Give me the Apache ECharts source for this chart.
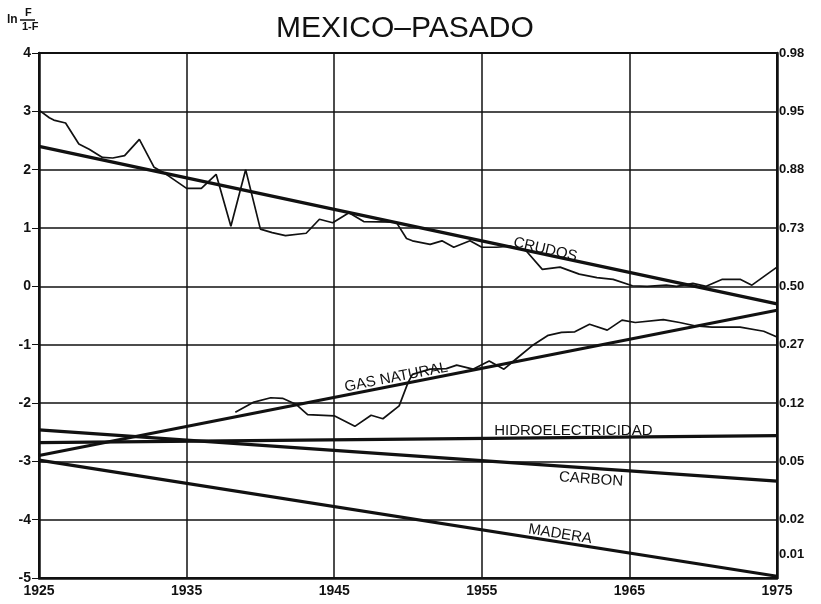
<!DOCTYPE html>
<html>
<head>
<meta charset="utf-8">
<script src="https://cdn.jsdelivr.net/npm/echarts@6/dist/echarts.min.js"></script>
<style>
  html, body { margin: 0; padding: 0; background: #fff; }
  #chart { width: 821px; height: 604px; }
</style>
</head>
<body>
<div id="chart"></div>
<script>
// Observed fraction of the market, as ln(F/(1-F)), Mexico 1925-1975
const crudosYears = [1925.0, 1925.7, 1926.0, 1926.8, 1927.7, 1928.4, 1929.3, 1930.0, 1930.8, 1931.8,
  1932.8, 1933.5, 1935.0, 1936.0, 1937.0, 1938.0, 1939.0, 1940.0, 1940.8, 1941.7,
  1943.1, 1944.0, 1944.9, 1946.0, 1947.0, 1949.2, 1949.9, 1950.3, 1951.5, 1952.3,
  1953.1, 1954.2, 1955.0, 1956.0, 1956.9, 1958.0, 1959.1, 1960.3, 1961.6, 1962.8,
  1963.9, 1965.2, 1966.2, 1967.5, 1968.2, 1969.3, 1970.2, 1971.3, 1972.5, 1973.3,
  1974.5, 1975.0];
const crudosValues = [3.02, 2.89, 2.85, 2.80, 2.44, 2.35, 2.21, 2.20, 2.24, 2.52,
  2.04, 1.94, 1.68, 1.68, 1.92, 1.03, 2.00, 0.98, 0.92, 0.87,
  0.91, 1.15, 1.09, 1.26, 1.11, 1.10, 0.82, 0.78, 0.72, 0.78,
  0.67, 0.78, 0.67, 0.67, 0.69, 0.61, 0.29, 0.33, 0.21, 0.15,
  0.12, 0.01, 0.00, 0.02, 0.00, 0.05, 0.00, 0.12, 0.12, 0.02,
  0.24, 0.33];

const gasYears = [1938.3, 1939.5, 1940.7, 1941.5, 1942.4, 1943.2, 1945.0, 1946.4, 1947.5, 1948.3,
  1949.4, 1950.0, 1950.3, 1951.5, 1952.6, 1953.3, 1954.4, 1955.5, 1956.5, 1957.3,
  1958.4, 1959.5, 1960.4, 1961.3, 1962.3, 1963.5, 1964.5, 1965.4, 1967.3, 1968.4,
  1969.5, 1970.6, 1972.5, 1974.1, 1975.0];
const gasValues = [-2.16, -1.99, -1.91, -1.92, -2.02, -2.20, -2.22, -2.40, -2.21, -2.27,
  -2.05, -1.65, -1.51, -1.42, -1.41, -1.35, -1.42, -1.28, -1.42, -1.25,
  -1.02, -0.84, -0.79, -0.78, -0.65, -0.75, -0.58, -0.62, -0.57, -0.62,
  -0.68, -0.70, -0.70, -0.77, -0.87];

// Fitted substitution lines (start and end of the period)
const trendYears = [1925, 1975];
const crudosTrend = [2.40, -0.30];
const gasTrend = [-2.90, -0.41];
const hidroTrend = [-2.68, -2.56];
const carbonTrend = [-2.46, -3.34];
const maderaTrend = [-2.98, -4.97];

// Right-hand scale: F corresponding to ln(F/(1-F))
const rightTickPositions = [4, 3, 2, 1, 0, -1, -2, -3, -4, -4.6];
const rightTickLabels = ['0.98', '0.95', '0.88', '0.73', '0.50', '0.27', '0.12', '0.05', '0.02', '0.01'];

// Curve names written along the lines: text, year, value, angle in degrees
const curveNames = ['CRUDOS', 'GAS NATURAL', 'HIDROELECTRICIDAD', 'CARBON', 'MADERA'];
const curveNameYears = [1959.3, 1949.2, 1961.2, 1962.4, 1960.3];
const curveNameValues = [0.63, -1.56, -2.47, -3.31, -4.25];
const curveNameAngles = [-13, 11, 0, -4, -9];

const FONT = '"Liberation Sans", Arial, Helvetica, sans-serif';
const INK = '#111';

function pairs(xs, ys) { return xs.map((x, i) => [x, ys[i]]); }

const chart = echarts.init(document.getElementById('chart'), null, { renderer: 'canvas' });

function trendSeries(name, values) {
  return {
    name: name, type: 'line', data: pairs(trendYears, values),
    symbol: 'none', silent: true, z: 3,
    lineStyle: { color: INK, width: 3.2 }
  };
}
function actualSeries(name, xs, ys) {
  return {
    name: name, type: 'line', data: pairs(xs, ys),
    symbol: 'none', silent: true, z: 4,
    lineStyle: { color: INK, width: 1.7 }
  };
}

const rightLabelMap = {};
rightTickPositions.forEach((p, i) => { rightLabelMap[Math.round(p * 10)] = rightTickLabels[i]; });

chart.setOption({
  backgroundColor: '#fff',
  animation: false,
  title: {
    text: 'MEXICO–PASADO',
    left: 271, top: 9,
    textStyle: { fontFamily: FONT, fontSize: 30, fontWeight: 'normal', color: INK }
  },
  grid: { left: 39, right: 44, top: 53, bottom: 26, show: true, borderColor: INK, borderWidth: 2, backgroundColor: 'transparent' },
  xAxis: {
    type: 'value', min: 1925, max: 1975, interval: 10,
    axisLine: { show: true, onZero: false, lineStyle: { color: INK, width: 2.5 } },
    axisTick: { show: false },
    axisLabel: {
      color: INK, fontFamily: FONT, fontWeight: 'bold', fontSize: 14, margin: 6,
      showMinLabel: true, showMaxLabel: true,
      formatter: v => String(Math.round(v))
    },
    splitLine: { show: true, lineStyle: { color: INK, width: 1.5 } }
  },
  yAxis: [
    {
      type: 'value', min: -5, max: 4, interval: 1, position: 'left',
      axisLine: { show: true, onZero: false, lineStyle: { color: INK, width: 2.5 } },
      axisTick: { show: true, length: 7, lineStyle: { color: INK, width: 1 } },
      axisLabel: { color: INK, fontFamily: FONT, fontWeight: 'bold', fontSize: 14, margin: 8, showMinLabel: true, showMaxLabel: true },
      splitLine: { show: true, lineStyle: { color: INK, width: 1.5 } }
    },
    {
      type: 'value', min: -5, max: 4, interval: 0.1, position: 'right',
      axisLine: { show: true, onZero: false, lineStyle: { color: INK, width: 2.5 } },
      axisTick: { show: false },
      splitLine: { show: false },
      axisLabel: {
        color: INK, fontFamily: FONT, fontWeight: 'bold', fontSize: 13, margin: 2,
        showMinLabel: true, showMaxLabel: true,
        formatter: v => rightLabelMap[Math.round(v * 10)] || ''
      }
    }
  ],
  series: [
    trendSeries('Crudos ajuste', crudosTrend),
    trendSeries('Gas natural ajuste', gasTrend),
    trendSeries('Hidroelectricidad', hidroTrend),
    trendSeries('Carbon', carbonTrend),
    trendSeries('Madera', maderaTrend),
    actualSeries('Crudos', crudosYears, crudosValues),
    actualSeries('Gas natural', gasYears, gasValues)
  ]
});

// Axis name ln F/(1-F) and the curve names placed in data coordinates
const graphics = [
  { type: 'text', left: 7, top: 14, style: { text: 'ln', font: 'bold 12px ' + FONT, fill: INK } },
  { type: 'text', left: 25, top: 7, style: { text: 'F', font: 'bold 11px ' + FONT, fill: INK } },
  { type: 'line', shape: { x1: 20, y1: 20, x2: 35, y2: 20 }, style: { stroke: INK, lineWidth: 1.5 } },
  { type: 'text', left: 22, top: 21, style: { text: '1-F', font: 'bold 11px ' + FONT, fill: INK } }
];
curveNames.forEach((name, i) => {
  const p = chart.convertToPixel({ gridIndex: 0 }, [curveNameYears[i], curveNameValues[i]]);
  graphics.push({
    type: 'text', x: p[0], y: p[1], rotation: curveNameAngles[i] * Math.PI / 180, z: 10,
    style: { text: name, font: '15px ' + FONT, fill: INK, align: 'center', verticalAlign: 'middle' }
  });
});
chart.setOption({ graphic: graphics });
</script>
</body>
</html>
